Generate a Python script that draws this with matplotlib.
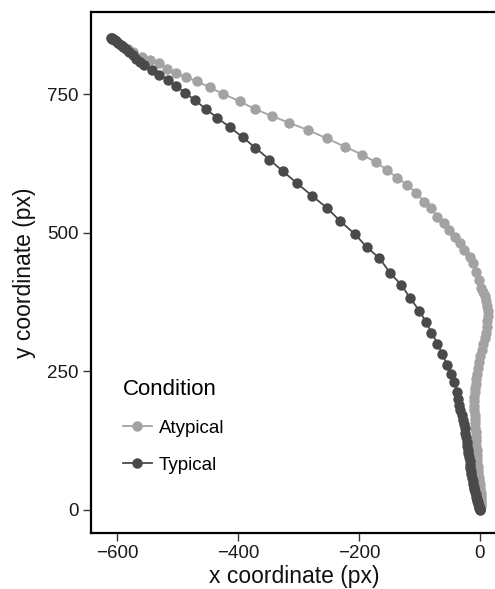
import matplotlib
matplotlib.use("Agg")
import matplotlib.pyplot as plt

plt.rcParams['font.family'] = ['Liberation Sans', 'DejaVu Sans']

conditions = ["Atypical", "Typical"]
colors = {"Atypical": "#A3A3A3", "Typical": "#4A4A4A"}

atypical_x = [0, 0.5, 1, 1.5, 2, 2.5, 2.5, 2.5, 2, 1.5, 1, 0, -0.5, -1, -2, -2.5, -3, -3.5, -4, -4.5,
              -5, -5.5, -6, -6.5, -7, -7, -7.5, -8, -8, -8.5, -9, -9, -9, -9, -8.5, -8, -7, -6, -4.5, -3,
              -1, 1, 3, 5.5, 8, 10, 11.5, 12.5, 13, 13, 12, 10, 8, 5, 2, -1, -6, -12, -17, -25.5,
              -33, -40.5, -50.5, -60, -70, -81, -92, -105, -120, -137, -153, -172, -195, -223, -253, -284, -315, -343, -372, -397,
              -424, -447, -467, -486, -502, -517, -531, -545, -559, -573, -582, -590, -596, -601, -605, -608, -610]
atypical_y = [0, 2, 4, 7, 10, 13, 17, 21, 25, 30, 35, 40, 46, 52, 58, 64, 71, 78, 85, 92,
              100, 108, 116, 124, 132, 140, 148, 156, 164, 172, 180, 188, 196, 204, 212, 220, 228, 236, 246, 256,
              266, 277, 288, 299, 310, 320, 330, 340, 350, 358, 367, 376, 385, 393, 400, 415, 430, 445, 457, 469,
              481, 493, 505, 517, 529, 544, 556, 572, 586, 599, 613, 627, 641, 655, 670, 685, 698, 710, 723, 737,
              750, 762, 773, 780, 788, 796, 806, 811, 817, 826, 832, 837, 841, 845, 848, 850, 851]

typical_x = [0, 0, -0.5, -1, -1.5, -2, -2.5, -3, -4, -5, -6, -7, -8, -9, -10, -11, -12, -13, -14, -15,
             -15.5, -16, -17, -18, -19, -20, -21, -22, -23, -24, -25, -27, -28, -30, -32, -34, -35.5, -37, -42, -48,
             -54, -62, -70, -80, -89, -100, -115, -130, -148, -166, -187, -207, -231, -253, -278, -302, -326, -348, -371, -392,
             -413, -434, -453, -471, -487, -502, -516, -530, -542, -556, -562, -568, -574, -580, -585, -590, -594, -598, -601, -604,
             -606, -608, -609, -610]
typical_y = [0, 1, 2, 4, 6, 8, 11, 14, 17, 20, 24, 28, 32, 37, 42, 47, 52, 58, 64, 70,
             76, 82, 88, 95, 102, 109, 116, 123, 131, 139, 147, 155, 163, 172, 181, 190, 201, 213, 231, 245,
             261, 281, 300, 320, 339, 359, 382, 406, 427, 454, 474, 498, 521, 545, 567, 589, 611, 632, 653, 672,
             690, 707, 723, 739, 752, 764, 775, 784, 793, 802, 808, 814, 820, 826, 831, 835, 839, 842, 845, 847,
             849, 850, 851, 851]

x_ticks = [-600, -400, -200, 0]
y_ticks = [0, 250, 500, 750]

fig = plt.figure(figsize=(4.95, 5.89), dpi=100)
ax = fig.add_axes([91/495, 1 - 533/589, 1.006 - 91/495, (533 - 12)/589])

series = {"Atypical": (atypical_x, atypical_y), "Typical": (typical_x, typical_y)}
for cond in conditions:
    xs, ys = series[cond]
    ax.plot(xs, ys, '-o', color=colors[cond], lw=1.3, ms=7.5, mew=0, label=cond)

ax.set_xlim(-643, 30)
ax.set_ylim(-41.5, 898)
ax.set_xticks(x_ticks)
ax.set_yticks(y_ticks)
ax.set_xticklabels(["\u2212600", "\u2212400", "\u2212200", "0"])
ax.tick_params(direction='out', length=6, width=1, color='#333333', labelsize=13.5, labelcolor='#1a1a1a', pad=3)
for s in ax.spines.values():
    s.set_linewidth(1.6)
    s.set_color('black')
ax.set_xlabel("x coordinate (px)", fontsize=16.5, color='#111111', labelpad=2)
ax.set_ylabel("y coordinate (px)", fontsize=16.5, color='#111111', labelpad=8)

leg = ax.legend(title="Condition", loc='upper left', bbox_to_anchor=(106/495, 1 - 362/589),
                bbox_transform=fig.transFigure, frameon=False, fontsize=13.5, title_fontsize=16,
                handlelength=1.55, handletextpad=0.38, labelspacing=1.05)
leg._legend_box.align = "left"

fig.savefig("out.png", dpi=100)
